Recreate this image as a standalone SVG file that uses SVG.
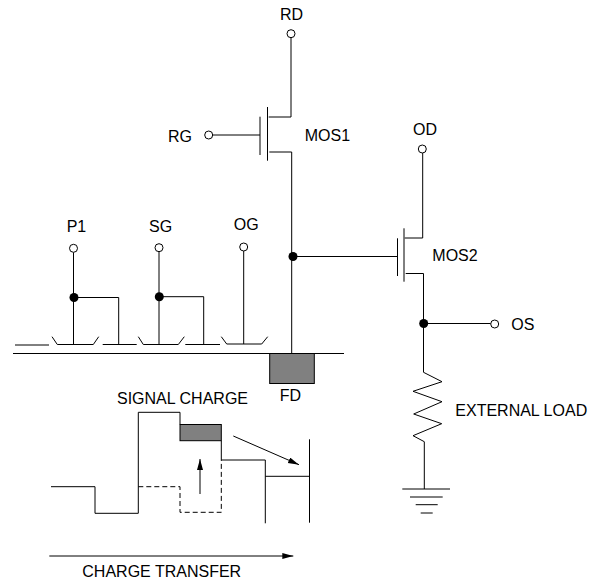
<svg xmlns="http://www.w3.org/2000/svg" width="596" height="582" viewBox="0 0 596 582">
<style>
.w{fill:none;stroke:#000;stroke-width:1}
.d{fill:none;stroke:#000;stroke-width:1;stroke-dasharray:5 3}
.o{fill:#fff;stroke:#000;stroke-width:1}
.j{fill:#000;stroke:none}
.g{fill:#808080;stroke:#000;stroke-width:1}
text{font-family:"Liberation Sans",Arial,sans-serif;font-size:16px;fill:#000}
</style>
<defs>
<marker id="ah" markerUnits="userSpaceOnUse" markerWidth="12" markerHeight="8" refX="11" refY="3" orient="auto"><path d="M0 0L11 3L0 6Z" fill="#000"/></marker>
</defs>
<rect width="596" height="582" fill="#fff"/>
<g id="connectors">
<path class="w" d="M291 37.7V117H268.7"/>
<path class="w" d="M267.5 107V160.7"/>
<path class="w" d="M260 116.7V155"/>
<path class="w" d="M212.7 135H260"/>
<path class="w" d="M269.3 152H291.7V353"/>
<path class="w" d="M293 256.5H397"/>
<path class="w" d="M422.7 153V238H404.7"/>
<path class="w" d="M404 228.3V281.7"/>
<path class="w" d="M397.5 238.3V276"/>
<path class="w" d="M405.7 273.5H423.5V372.3L442 381.7L413 391.3L442 401.7L413.7 414L441.7 423.7L413 435.7L424.3 441.7V489"/>
<path class="w" d="M423.7 323.5H490.7"/>
<path class="w" d="M402.3 489H450M410 497H442.7M415.7 504.7H437.7M420.7 513H432.7"/>
<path class="w" d="M73.5 252.3V344.5M74 297.5H118.7V344.5"/>
<path class="w" d="M159 251.7V344.5M159 296.7H203.7V344.5"/>
<path class="w" d="M243.7 251V344"/>
<path class="w" d="M15 345H49M52 336.7L57.3 344.5H93.3L98.7 336.7M102.7 344.5H136.7M138.3 336.7L143.3 344.5H178.3L184.3 336.7M185.3 344.5H220M221.3 336.7L226.7 344H261.7L267.7 336.7"/>
<path class="w" d="M13 353.5H344"/>
<path class="w" d="M51 486.7H95V513.3H138.3V412.3H180V424.5"/>
<path class="w" d="M221.3 440.7V460H265.3V523.3M265.3 476.3H309.5M309.5 439.3V522.7"/>
<path class="d" d="M138.3 486.7H180V512.3H221.3V460"/>
<path class="w" d="M200 494V459" marker-end="url(#ah)"/>
<path class="w" d="M233.3 436L299 464.7" marker-end="url(#ah)"/>
<path class="w" d="M49.3 556H293.3" marker-end="url(#ah)"/>
</g>
<g id="RD"><circle class="o" cx="291" cy="33.7" r="4"/><text x="280" y="20">RD</text></g>
<g id="RG"><circle class="o" cx="208.7" cy="135" r="4"/><text x="168" y="141.5">RG</text></g>
<g id="MOS1"><text x="304.7" y="140.5">MOS1</text></g>
<g id="OD"><circle class="o" cx="422.3" cy="149" r="4"/><text x="413" y="135.3">OD</text></g>
<g id="MOS2"><text x="432.3" y="261">MOS2</text></g>
<g id="OS"><circle class="o" cx="494.7" cy="324" r="4"/><text x="511.3" y="329.5">OS</text></g>
<g id="OS-junction"><circle class="j" cx="423.7" cy="323.5" r="4.5"/></g>
<g id="FD-junction"><circle class="j" cx="293" cy="256.5" r="4.5"/></g>
<g id="P1"><circle class="o" cx="73.5" cy="248.3" r="4"/><circle class="j" cx="74" cy="297.5" r="4.5"/><text x="66.7" y="232.3">P1</text></g>
<g id="SG"><circle class="o" cx="159" cy="247.7" r="4"/><circle class="j" cx="159.3" cy="296.7" r="4.5"/><text x="149" y="232">SG</text></g>
<g id="OG"><circle class="o" cx="243.7" cy="247" r="4"/><text x="233.7" y="230">OG</text></g>
<g id="FD"><rect class="g" x="269.7" y="353.5" width="44.6" height="30"/><text x="279.7" y="400.7">FD</text></g>
<g id="signal-charge"><rect class="g" x="180" y="424.5" width="41.3" height="16.2"/><text x="117" y="404">SIGNAL CHARGE</text></g>
<g id="external-load"><text x="455.3" y="416">EXTERNAL LOAD</text></g>
<g id="charge-transfer"><text x="82.3" y="577.3">CHARGE TRANSFER</text></g>
</svg>
